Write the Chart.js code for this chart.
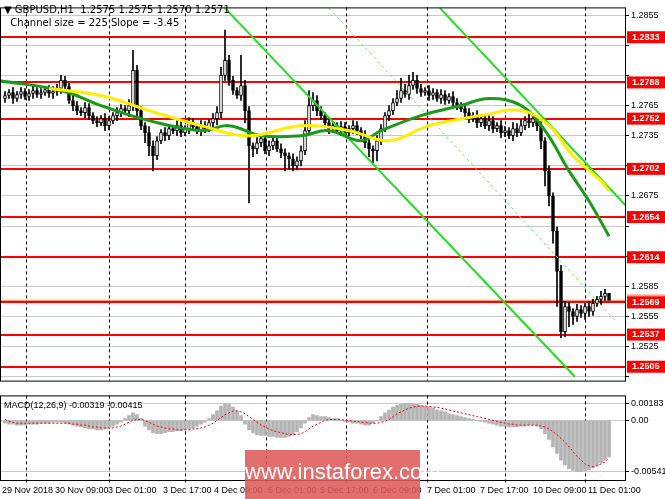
<!DOCTYPE html>
<html><head><meta charset="utf-8">
<script src="https://cdn.jsdelivr.net/npm/chart.js@4.4.1/dist/chart.umd.min.js"></script>
<style>
html,body{margin:0;padding:0;background:#fff;width:665px;height:499px;overflow:hidden;font-family:"Liberation Sans",sans-serif}
#w1{position:absolute;left:0;top:0;width:665px;height:388px}
#w2{position:absolute;left:0;top:388px;width:665px;height:111px}
#hdr{position:absolute;left:4px;top:3px;font-size:10px;line-height:13px;color:#000;font-family:"DejaVu Sans"}
#wm{position:absolute;left:245px;top:450px;width:175px;height:49px;background:rgba(222,90,90,0.88);color:#fff;font:22px "Liberation Sans",Arial,sans-serif;text-align:center;line-height:44px}
</style></head><body>
<div id="w1"><canvas id="c1"></canvas></div>
<div id="w2"><canvas id="c2"></canvas></div>
<div id="hdr">▼ GBPUSD,H1&nbsp; 1.2575 1.2575 1.2570 1.2571<br>&nbsp;&nbsp;Channel size = 225 Slope = -3.45</div>
<div id="wm">www.instaforex.com</div>
<script>
// closes in 1e-4 above 1.2 (e.g. 775 -> 1.2775)
const closes=[775,778,772,776,779,774,777,780,776,778,781,777,779,782,
790,784,770,765,760,758,763,755,750,748,752,745,
750,755,758,762,760,765,800,760,745,738,
725,715,730,738,735,742,740,745,738,742,748,744,740,
745,742,748,752,758,795,810,790,780,775,785,760,
725,722,728,732,720,725,730,722,718,715,712,705,710,
720,740,765,770,760,755,748,742,745,740,744,738,742,745,740,
735,728,722,720,730,742,755,760,768,772,
780,776,785,790,782,778,780,775,778,772,776,770,774,768,765,762,758,
752,755,748,752,745,750,742,745,738,740,735,742,738,745,750,748,752,745,
730,700,675,640,600,540,565,560,555,562,558,565,560,568,572,575,578,571];
const firstOpen=772;
const hiPad=[4,3,5,3,4,3,4,5,3,4,3,4,5,4,5,4,3,5,4,3,5,4,3,4,3,5,
4,3,5,4,3,6,20,5,4,3,6,5,4,3,5,4,3,5,4,3,5,4,3,
5,4,3,5,6,8,30,5,4,3,30,5,4,3,5,4,3,5,4,3,5,4,3,5,
4,5,10,15,8,5,4,3,5,4,3,5,4,3,5,4,3,5,4,3,5,4,3,5,4,8,
12,6,10,8,5,4,3,5,4,3,5,4,3,5,4,3,5,4,3,5,4,3,5,4,3,5,4,3,6,5,6,4,8,5,
3,4,3,5,3,4,6,5,4,3,5,4,3,5,4,3,5,4];
const loPad=[4,3,5,3,4,3,4,5,3,4,3,4,5,4,5,4,3,5,4,3,5,4,3,4,3,5,
4,3,5,4,3,6,5,5,4,10,10,15,4,3,5,4,3,5,4,3,5,4,3,
5,4,3,5,6,5,5,5,4,3,5,12,57,8,5,4,3,5,4,3,5,15,10,5,
4,5,4,3,5,5,4,3,5,4,3,5,4,3,5,4,3,5,8,12,10,4,3,5,4,3,
4,3,5,4,5,4,3,5,4,3,5,4,3,5,4,3,5,4,3,5,4,3,5,4,3,5,4,3,5,4,3,4,5,4,
5,8,15,10,12,35,6,5,15,8,5,4,6,5,4,3,5,4];
const greenMA=[[-2,790],[14,780],[24,765],[36,750],[49,740],[56,745],[64,735],[74,735],[81,740],[89,730],[94,740],[104,755],[114,765],[121,772],[129,765],[135,740],[141,700],[146,670],[151,635]];
const yellowMA=[[11,782],[24,775],[36,760],[49,745],[61,735],[74,745],[86,740],[96,730],[106,745],[119,755],[129,760],[136,745],[142,715],[149,690],[151,680]];
const channelSolid1=[[55,1.2862],[142.5,1.2495]];
const channelSolid2=[[108.75,1.2862],[156,1.2662]];
const channelMid=[[81,1.2862],[152.5,1.2551]];
const levels=[1.2833,1.2788,1.2752,1.2702,1.2654,1.2614,1.2569,1.2537,1.2505];
const currentPrice=1.2571;
const yTicks=[1.2855,1.2825,1.2795,1.2765,1.2735,1.2705,1.2675,1.2645,1.2615,1.2585,1.2555,1.2525,1.2495];
const daySeps=[5.25,26,45,65.25,85.25,105.5,125,145];
const dateLabels=["29 Nov 2018","30 Nov 09:00","3 Dec 01:00","3 Dec 17:00","4 Dec 09:00","5 Dec 01:00","5 Dec 17:00","6 Dec 09:00","7 Dec 01:00","7 Dec 17:00","10 Dec 09:00","11 Dec 01:00"];
const dateIdx=[0,13.25,26.5,40.25,53,66.5,79.5,92.75,106.25,119.5,132.75,146.5];
// MACD in 1e-4
const hist=[-3,-4,-4,-5,-5,-5,-4,-4,-4,-3,-3,-3,-2,-2,
-2,-3,-4,-5,-6,-7,-8,-9,-9,-10,-10,-9,
-8,-6,-4,-2,2,5,8,6,2,-6,
-10,-13,-14,-14,-13,-12,-12,-11,-11,-10,-9,-8,-6,
-4,-2,2,6,10,15,18,17,14,10,5,-4,
-10,-13,-15,-16,-16,-17,-17,-18,-18,-18,-17,-15,-12,
-8,-3,3,6,5,4,4,3,2,2,0,-1,-2,-3,-3,
-4,-5,-5,-3,0,4,8,11,14,16,
17,18,18,18,17,16,15,14,13,11,10,9,7,6,5,4,3,
2,1,0,-1,-2,-3,-4,-5,-6,-6,-7,-7,-7,-6,-6,-5,-5,-6,
-9,-14,-20,-28,-35,-42,-47,-51,-53,-54,-54,-53,-52,-50,-48,-45,-42,-39];
const signal=[1,-1,-2,-3,-3,-3,-3,-3,-3,-3,-3,-3,-3,-3,
-3,-3,-3,-4,-4,-5,-5,-6,-7,-7,-8,-8,
-8,-8,-7,-6,-4,-2,0,1,1,0,
-2,-4,-6,-7,-8,-9,-9,-10,-10,-10,-10,-9,-9,
-8,-7,-5,-3,0,3,6,8,10,10,9,7,
4,1,-2,-5,-7,-9,-11,-12,-13,-14,-15,-15,-15,
-14,-12,-9,-6,-4,-2,0,1,1,1,1,0,0,-1,-1,
-2,-2,-3,-3,-3,-2,-1,1,4,7,
9,11,13,14,15,15,15,15,14,14,13,12,11,10,9,8,7,
6,5,4,3,2,1,0,-1,-2,-3,-4,-4,-5,-5,-5,-5,-5,-5,
-6,-7,-9,-12,-15,-19,-23,-28,-33,-38,-42,-46,-48,-49,-48,-46,-44,-40];
const macdTicks=[0.00183,0,-0.00541];

const P=v=>1.2+v/10000;
const bodies=[],wicks=[],bodyFill=[];
closes.forEach((c,i)=>{const o=i?closes[i-1]:firstOpen;
 bodies.push({x:i,y:[P(o),P(c===o?c+0.3:c)]});
 wicks.push({x:i,y:[P(Math.min(o,c)-loPad[i]),P(Math.max(o,c)+hiPad[i])]});
 bodyFill.push(c>=o?'#ffffff':'#000000');});
const pts=a=>a.map(p=>({x:p[0],y:p[1]>10?P(p[1]):p[1]}));
const XMIN=-1.25,XMAX=155.25;
const FONT='9px "Liberation Sans"';

const mainPlugin={id:'mp',
 beforeDatasetsDraw(ch){const {ctx,chartArea:a,scales:{x,y}}=ch;ctx.save();
  ctx.strokeStyle='#000';ctx.setLineDash([3,3]);ctx.lineWidth=1;
  daySeps.forEach(d=>{const px=Math.round(x.getPixelForValue(d))+0.5;ctx.beginPath();ctx.moveTo(px,a.top);ctx.lineTo(px,a.bottom);ctx.stroke();});
  ctx.setLineDash([]);ctx.strokeStyle='#f5a07a';ctx.lineWidth=1.5;
  let py=y.getPixelForValue(currentPrice);ctx.beginPath();ctx.moveTo(a.left,py);ctx.lineTo(a.right,py);ctx.stroke();
  ctx.strokeStyle='#ff0000';ctx.lineWidth=2;
  levels.forEach(l=>{const py=Math.round(y.getPixelForValue(l));ctx.beginPath();ctx.moveTo(a.left,py);ctx.lineTo(a.right,py);ctx.stroke();});
  ctx.restore();},
 afterDraw(ch){const {ctx,chartArea:a,scales:{y}}=ch;ctx.save();
  ctx.strokeStyle='#000';ctx.lineWidth=1;ctx.strokeRect(a.left+0.5,a.top+0.5,a.right-a.left-1,a.bottom-a.top);
  ctx.font='bold '+FONT;ctx.textBaseline='middle';
  let py=y.getPixelForValue(currentPrice);ctx.fillStyle='#f5a07a';ctx.fillRect(a.right+1,py-6,38,12);
  levels.forEach(l=>{const py=y.getPixelForValue(l);ctx.fillStyle='#ff0000';ctx.fillRect(a.right+1,py-6,38,12);
   ctx.fillStyle='#fff';ctx.fillText(l.toFixed(4),a.right+6,py);});
  ctx.restore();}};

new Chart(document.getElementById('c1'),{type:'bar',
 data:{datasets:[
  {type:'line',data:pts(channelSolid1),borderColor:'#22dd22',borderWidth:2,pointRadius:0,order:1},
  {type:'line',data:pts(channelSolid2),borderColor:'#22dd22',borderWidth:2,pointRadius:0,order:1},
  {type:'line',data:pts(channelMid),borderColor:'#66ee66',borderWidth:1,borderDash:[3,3],pointRadius:0,order:1},
  {type:'line',data:pts(yellowMA),borderColor:'#ffee00',borderWidth:3,pointRadius:0,tension:0.4,order:0},
  {type:'line',data:pts(greenMA),borderColor:'#1a9a1a',borderWidth:3,pointRadius:0,tension:0.4,order:0},
  {data:wicks,backgroundColor:'#000',barThickness:1,grouped:false,order:3},
  {data:bodies,backgroundColor:bodyFill,borderColor:'#000',borderWidth:1,borderSkipped:false,barThickness:3,grouped:false,order:2}
 ]},
 options:{responsive:true,maintainAspectRatio:false,animation:false,events:[],
  layout:{padding:0},
  plugins:{legend:{display:false},tooltip:{enabled:false}},
  scales:{
   x:{type:'linear',offset:false,min:XMIN,max:XMAX,display:false,grid:{display:false}},
   y:{position:'right',min:1.24912,max:1.28627,afterFit(s){s.width=39;},
    afterBuildTicks(s){s.ticks=yTicks.map(v=>({value:v}));},
    border:{display:false},
    grid:{color:'#c8c8c8',borderDash:[2,3],drawTicks:true,tickLength:3,tickColor:'#000'},
    ticks:{color:'#000',font:{size:9,family:'Liberation Sans'},padding:2,
     callback:v=>levels.some(l=>Math.abs(l-v)<0.0011)?'':v.toFixed(4)}}}},
 plugins:[mainPlugin]});

const macdPlugin={id:'mcp',
 beforeDatasetsDraw(ch){const {ctx,chartArea:a,scales:{x}}=ch;ctx.save();
  ctx.strokeStyle='#000';ctx.setLineDash([3,3]);
  daySeps.forEach(d=>{const px=Math.round(x.getPixelForValue(d))+0.5;ctx.beginPath();ctx.moveTo(px,a.top);ctx.lineTo(px,a.bottom+3);ctx.stroke();});
  ctx.restore();},
 afterDraw(ch){const {ctx,chartArea:a,scales:{x}}=ch;ctx.save();
  ctx.strokeStyle='#000';ctx.strokeRect(a.left+0.5,a.top+0.5,a.right-a.left-1,a.bottom-a.top);
  ctx.fillStyle='#000';ctx.font=FONT;ctx.textBaseline='top';
  dateLabels.forEach((t,i)=>{const px=x.getPixelForValue(dateIdx[i]);ctx.fillText(t,Math.max(2,px-3),a.bottom+6);});
  ctx.fillText('MACD(12,26,9) -0.00319 -0.00415',4,a.top+6);
  ctx.restore();}};
new Chart(document.getElementById('c2'),{type:'bar',
 data:{datasets:[
  {type:'line',data:signal.map((v,i)=>({x:i,y:v/10000})),borderColor:'#ff0000',borderWidth:1,borderDash:[2,2],pointRadius:0,order:0},
  {data:hist.map((v,i)=>({x:i,y:v/10000})),backgroundColor:'#b4b4b4',barThickness:3,order:1}
 ]},
 options:{responsive:true,maintainAspectRatio:false,animation:false,events:[],
  layout:{padding:{top:4,bottom:19}},
  plugins:{legend:{display:false},tooltip:{enabled:false}},
  scales:{
   x:{type:'linear',offset:false,min:XMIN,max:XMAX,display:false},
   y:{position:'right',min:-0.0063,max:0.00264,afterFit(s){s.width=39;},
    afterBuildTicks(s){s.ticks=macdTicks.map(v=>({value:v}));},
    border:{display:false},
    grid:{color:'#c8c8c8',borderDash:[2,3],tickLength:3,tickColor:'#000'},
    ticks:{color:'#000',font:{size:9,family:'Liberation Sans'},padding:2,callback:v=>v===0?'0.00':v.toFixed(5)}}}},
 plugins:[macdPlugin]});
</script></body></html>
